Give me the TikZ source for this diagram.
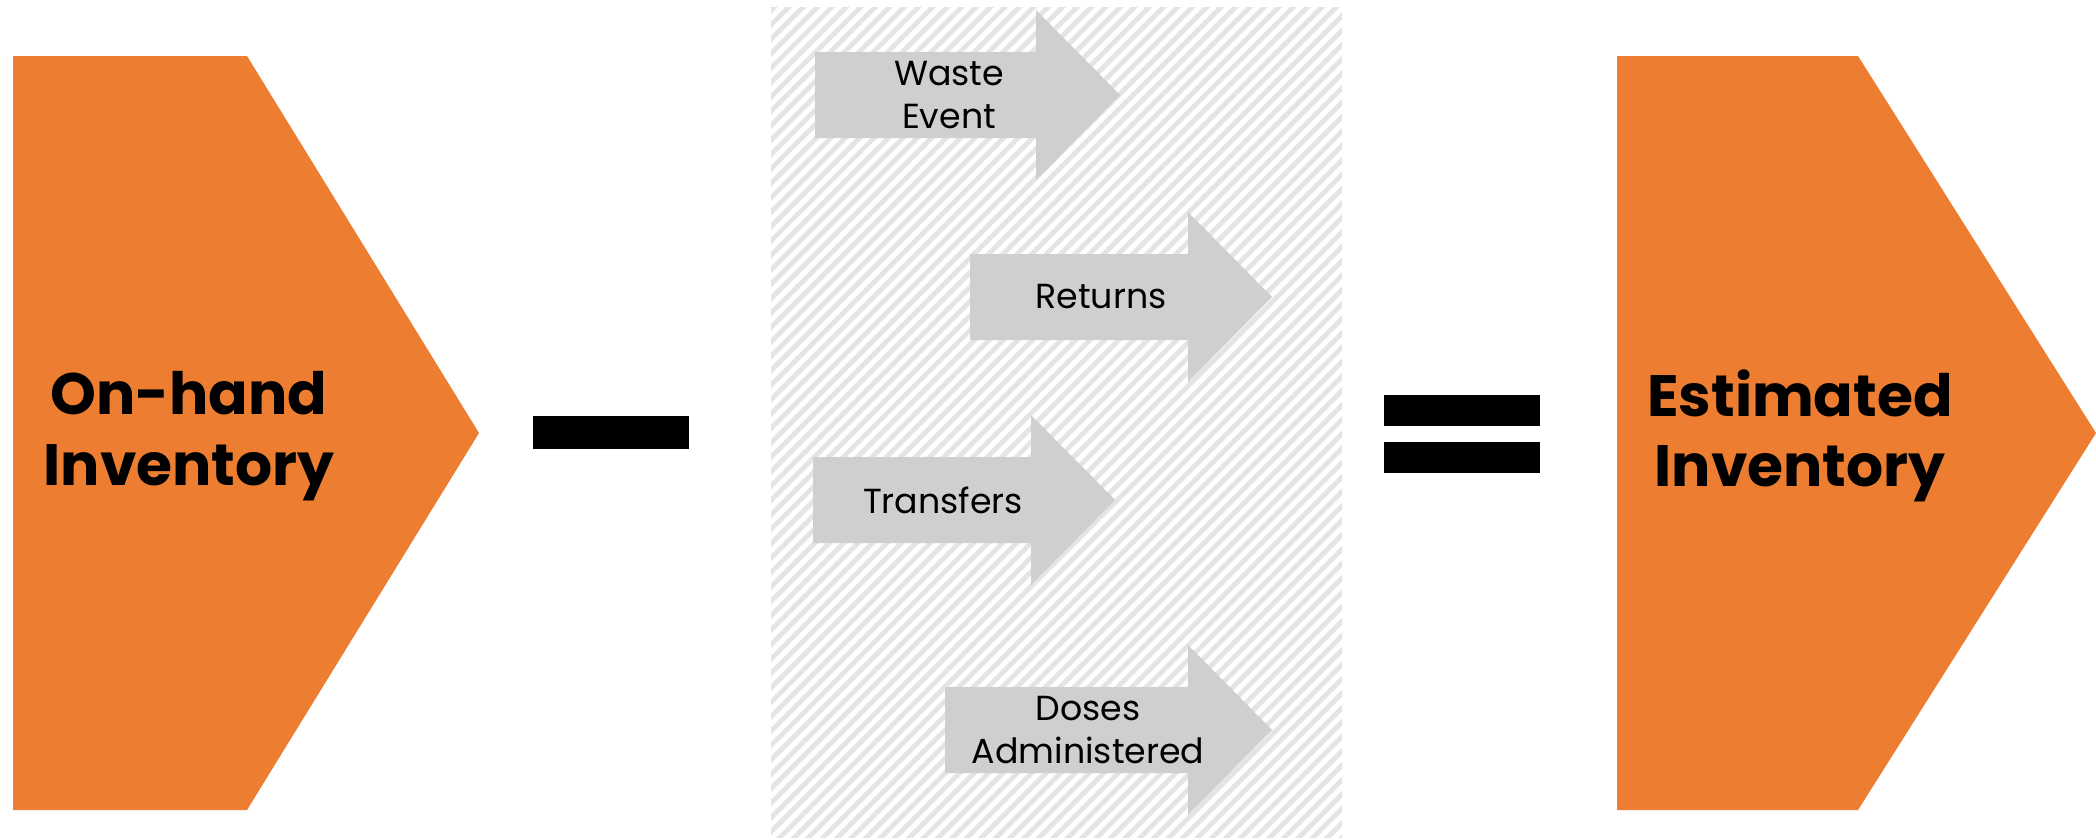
\documentclass[tikz,border=0pt]{standalone}
\usepackage{fontspec}
\setmainfont{Poppins}
\usetikzlibrary{patterns.meta}

\definecolor{boxorange}{RGB}{237,125,49}
\definecolor{arrowgray}{RGB}{208,206,206}
\definecolor{hatchgray}{RGB}{228,228,228}

\tikzset{
	inventory/.style={fill=boxorange},
	bigtext/.style={font=\fontsize{16.6pt}{20pt}\selectfont\bfseries, align=center, inner sep=0pt},
	flowarrow/.style={fill=arrowgray},
	flowtext/.style={font=\fontsize{9.9pt}{12.5pt}\selectfont, align=center, inner sep=0pt},
	opbar/.style={fill=black},
}

\begin{document}
\begin{tikzpicture}
		\useasboundingbox (0,0) rectangle (20.96,8.39);
		% striped panel behind the deductions
		\fill [pattern={Lines[angle=45, distance=2.9pt, line width=1.4pt]}, pattern color=hatchgray] (7.71,0.02) rectangle (13.42,8.32);
		% left and right inventory blocks
		\fill [inventory] (0.13,7.83) -- (2.47,7.83) -- (4.79,4.06) -- (2.47,0.29) -- (0.13,0.29) -- cycle;
		\node [bigtext] (onhand) at (1.89,4.03) {On-hand\\Inventory};
		\fill [inventory] (16.17,7.83) -- (18.58,7.83) -- (20.96,4.06) -- (18.58,0.29) -- (16.17,0.29) -- cycle;
		\node [bigtext] (estimated) at (18.00,4.03) {Estimated\\Inventory};
		% minus and equals signs
		\fill [opbar] (5.33,3.90) rectangle (6.89,4.23);
		\fill [opbar] (13.84,4.13) rectangle (15.40,4.44);
		\fill [opbar] (13.84,3.66) rectangle (15.40,3.97);
		% the four deductions
		\fill [flowarrow] (8.15,7.87) -- (10.36,7.87) -- (10.36,8.29) -- (11.20,7.44) -- (10.36,6.59) -- (10.36,7.01) -- (8.15,7.01) -- cycle;
		\node [flowtext] (waste) at (9.49,7.44) {Waste\\Event};
		\fill [flowarrow] (9.70,5.85) -- (11.88,5.85) -- (11.88,6.27) -- (12.72,5.42) -- (11.88,4.57) -- (11.88,4.99) -- (9.70,4.99) -- cycle;
		\node [flowtext] (returns) at (11.01,5.42) {Returns};
		\fill [flowarrow] (8.13,3.82) -- (10.31,3.82) -- (10.31,4.24) -- (11.15,3.39) -- (10.31,2.54) -- (10.31,2.96) -- (8.13,2.96) -- cycle;
		\node [flowtext] (transfers) at (9.43,3.39) {Transfers};
		\fill [flowarrow] (9.45,1.52) -- (11.88,1.52) -- (11.88,1.94) -- (12.72,1.09) -- (11.88,0.24) -- (11.88,0.66) -- (9.45,0.66) -- cycle;
		\node [flowtext] (doses) at (10.88,1.09) {Doses\\Administered};
	\end{tikzpicture}
\end{document}
